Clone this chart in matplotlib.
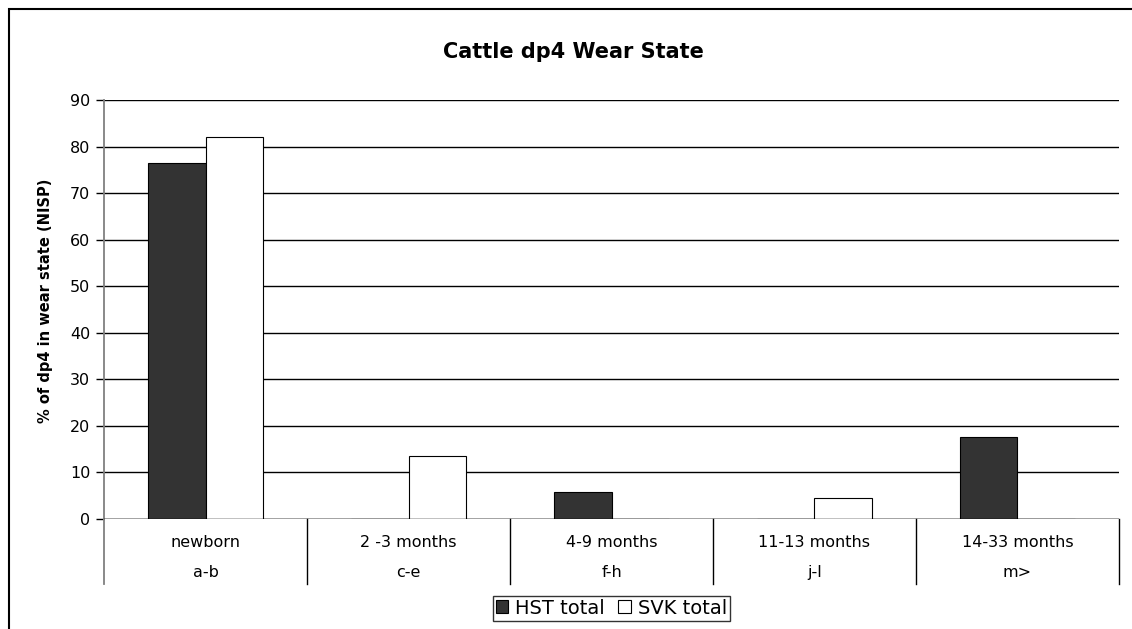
import matplotlib
matplotlib.use("Agg")
import matplotlib.pyplot as plt
from matplotlib.patches import Rectangle
from matplotlib.transforms import blended_transform_factory
import numpy as np

plt.rcParams['font.family'] = ['DejaVu Sans']

# data
ages = ['newborn', '2 -3 months', '4-9 months', '11-13 months', '14-33 months']
stages = ['a-b', 'c-e', 'f-h', 'j-l', 'm>']
hst = [76.5, 0, 5.8, 0, 17.6]
svk = [82.0, 13.5, 0, 4.5, 0]
yticks = list(range(0, 100, 10))

fig = plt.figure(figsize=(11.32, 6.29), dpi=100)
ax = fig.add_axes([0.0919, 0.1749, 0.8966, 0.6661])

x = np.arange(len(ages))
w = 0.285
ax.bar(x - w / 2, hst, w, color='#333333', edgecolor='black', linewidth=0.8,
       label='HST total', zorder=3)
ax.bar(x + w / 2, svk, w, color='white', edgecolor='black', linewidth=0.8,
       label='SVK total', zorder=3)

ax.set_xlim(-0.5, len(ages) - 0.5)
ax.set_ylim(0, 90)
ax.set_yticks(yticks)
ax.tick_params(axis='y', labelsize=11.5, length=6, width=1, color='black', pad=4)
ax.set_xticks([])
ax.yaxis.grid(True, color='black', linewidth=1)
ax.set_axisbelow(True)
for s in ['top', 'right', 'bottom']:
    ax.spines[s].set_visible(False)
ax.spines['left'].set_color('#808080')
ax.spines['left'].set_linewidth(1.3)
ax.axhline(0, color='black', linewidth=1, zorder=4)

# category boxes below the axis
tr = blended_transform_factory(ax.transData, ax.transAxes)
for i in range(len(ages) + 1):
    ax.plot([i - 0.5, i - 0.5], [0, -0.155], transform=tr, clip_on=False,
            color='#808080' if i == 0 else 'black', linewidth=1.3 if i == 0 else 1)
for i, (a, s) in enumerate(zip(ages, stages)):
    ax.text(i, -0.057, a, transform=tr, ha='center', va='center', fontsize=11.5)
    ax.text(i, -0.127, s, transform=tr, ha='center', va='center', fontsize=11.5)

fig.text(0.507, 0.917, 'Cattle dp4 Wear State', ha='center', va='center',
         fontsize=15, fontweight='bold')
fig.text(0.040, 0.521, '% of dp4 in wear state (NISP)', ha='center', va='center',
         rotation=90, fontsize=10.5, fontweight='bold')

leg = fig.legend(loc='center', bbox_to_anchor=(0.540, 0.033), ncol=2,
                 fontsize=14, frameon=True, fancybox=False, handlelength=0.65,
                 handleheight=0.65, handletextpad=0.35, columnspacing=0.7,
                 borderpad=0.15, borderaxespad=0)
leg.get_frame().set_edgecolor('black')
leg.get_frame().set_linewidth(1)

# outer chart frame (runs off the right and bottom of the picture)
fig.patches.append(Rectangle((9 / 1132, -0.1), 1.2, 1.1 - 9 / 629, fill=False,
                             edgecolor='black', linewidth=1.5,
                             transform=fig.transFigure))

fig.savefig('out.png', dpi=100)
